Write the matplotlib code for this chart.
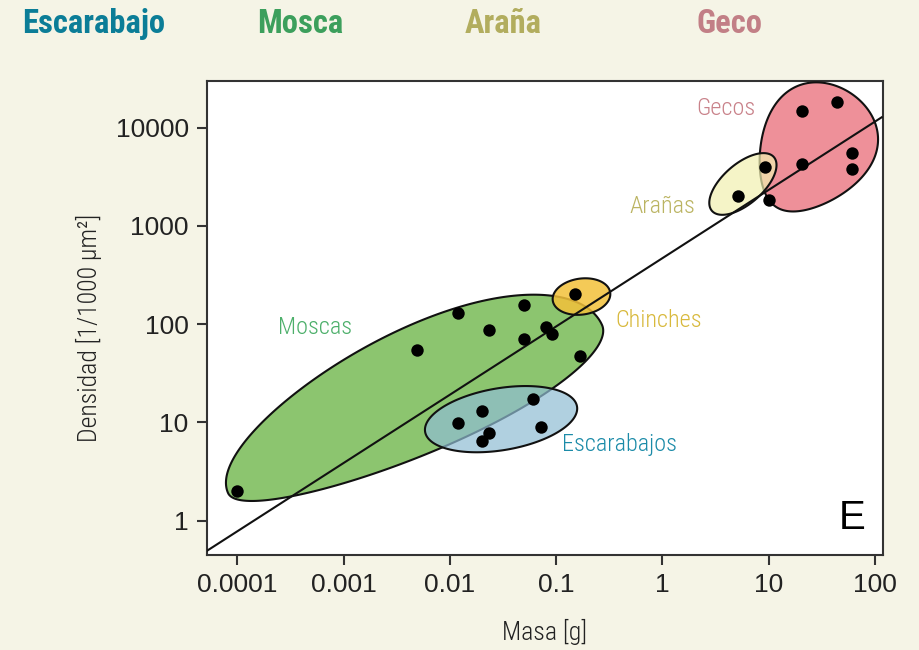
import matplotlib
matplotlib.use("Agg")
import matplotlib.pyplot as plt
import matplotlib.transforms as mtransforms
from matplotlib.patches import PathPatch
from matplotlib.path import Path
import numpy as np

# datos (masa en g, densidad en 1/1000 um2)
escarabajo_masa = [0.012, 0.0202, 0.0233, 0.0202, 0.061, 0.0714]
escarabajo_dens = [9.9, 13.1, 7.9, 6.4, 17.3, 9.0]
mosca_masa = [0.0001, 0.0049, 0.012, 0.0235, 0.050, 0.050, 0.080, 0.092, 0.168]
mosca_dens = [2.0, 55, 131, 87, 157, 71, 94, 80, 48]
chinche_masa = [0.150]
chinche_dens = [201]
arana_masa = [5.1, 9.2]
arana_dens = [2030, 3950]
geco_masa = [10.0, 20.4, 44.2, 20.4, 61.1, 61.1]
geco_dens = [1840, 14800, 18100, 4270, 5570, 3800]

# recta de ajuste (extremos)
ajuste_masa = [5.15e-5, 115.6]
ajuste_dens = [0.492, 12760]

x_ticks = [0.0001, 0.001, 0.01, 0.1, 1, 10, 100]
x_labels = ["0.0001", "0.001", "0.01", "0.1", "1", "10", "100"]
y_ticks = [1, 10, 100, 1000, 10000]
y_labels = ["1", "10", "100", "1000", "10000"]

cabeceras = ["Escarabajo", "Mosca", "Araña", "Geco"]
cabecera_colores = ["#0b7d97", "#3c9f5c", "#b2ad5e", "#c27f86"]

NARROW = "Roboto Condensed"
REG = "Liberation Sans"

fig = plt.figure(figsize=(9.19, 6.5), dpi=100, facecolor="#f5f4e6")
ax = fig.add_axes([0.2249, 0.1462, 0.7356, 0.7292])
ax.set_facecolor("white")
ax.set_xscale("log")
ax.set_yscale("log")
ax.set_xlim(5.15e-5, 118)
ax.set_ylim(0.448, 29850)


def contorno(cx, cy, a, b_sup, b_inf, ang, k, fc, alpha, z):
    # forma de huevo en pixeles, centrada en un punto de datos
    t = np.linspace(0, 2 * np.pi, 300)
    u = a * np.cos(t)
    b = np.where(np.sin(t) > 0, b_sup, b_inf)
    v = b * np.sin(t) * (1 + k * np.cos(t))
    r = np.deg2rad(ang)
    px = u * np.cos(r) - v * np.sin(r)
    py = u * np.sin(r) + v * np.cos(r)
    verts = np.column_stack([px, py]) / 100.0
    trans = fig.dpi_scale_trans + mtransforms.ScaledTranslation(cx, cy, ax.transData)
    p = PathPatch(Path(verts, closed=True), transform=trans, facecolor=fc,
                  alpha=alpha, edgecolor="none", zorder=z)
    ax.add_patch(p)
    e = PathPatch(Path(verts, closed=True), transform=trans, facecolor="none",
                  edgecolor="#111111", lw=1.5, zorder=z + 0.1)
    ax.add_patch(e)


contorno(0.0047, 13.7, 205, 78, 46, 24.2, 0.12, "#8cc56f", 1.0, 1)
contorno(0.0303, 10.8, 77, 31, 31, 9.5, 0.0, "#8fbdd3", 0.7, 2)
contorno(0.173, 191, 29, 18, 18, 8, 0.0, "#f3c13a", 0.85, 3)
contorno(26.2, 5930, 68, 55, 55, 57, 0.25, "#ee8a94", 0.95, 4)
contorno(5.71, 2673, 41, 20, 20, 41, 0.0, "#f2f0b0", 0.7, 5)

ax.plot(ajuste_masa, ajuste_dens, color="#111111", lw=1.5, zorder=7)

for m, d in [(escarabajo_masa, escarabajo_dens), (mosca_masa, mosca_dens),
             (chinche_masa, chinche_dens), (arana_masa, arana_dens),
             (geco_masa, geco_dens)]:
    ax.scatter(m, d, s=80, color="black", zorder=8, linewidths=0)

etiq = dict(fontsize=17.5, family=NARROW, weight=300, ha="center", va="center")
ax.text(0.00054, 91.5, "Moscas", color="#4caf6a", **etiq)
ax.text(0.398, 5.9, "Escarabajos", color="#1b8ba8", **etiq)
ax.text(0.93, 110, "Chinches", color="#d8b93c", **etiq)
ax.text(0.99, 1560, "Arañas", color="#bbb462", **etiq)
ax.text(3.95, 15850, "Gecos", color="#c9828a", **etiq)
ax.text(0.955, 0.078, "E", transform=ax.transAxes, fontsize=29, family=REG,
        ha="center", va="center")

ax.set_xticks(x_ticks)
ax.set_xticklabels(x_labels, family=REG, fontsize=19)
ax.set_yticks(y_ticks)
ax.set_yticklabels(y_labels, family=REG, fontsize=19)
ax.minorticks_off()
ax.tick_params(length=7, width=1.5, color="#333333", labelcolor="#222222", pad=6)
for s in ax.spines.values():
    s.set_linewidth(1.5)
    s.set_color("#333333")

ax.set_xlabel("Masa [g]", family=NARROW, weight=300, fontsize=18.5, color="#222222")
ax.set_ylabel("Densidad [1/1000 µm²]", family=NARROW, weight=300, fontsize=18.5,
              color="#222222")
ax.xaxis.set_label_coords(0.5, -0.135)
ax.yaxis.set_label_coords(-0.155, 0.48)

xs = [22, 257, 465, 697]
for txt, c, x in zip(cabeceras, cabecera_colores, xs):
    fig.text(x / 919, (650 - 33) / 650, txt, color=c, fontsize=23.5, weight="bold",
             family=NARROW, ha="left", va="baseline")

fig.savefig("out.png", dpi=100, facecolor=fig.get_facecolor())
